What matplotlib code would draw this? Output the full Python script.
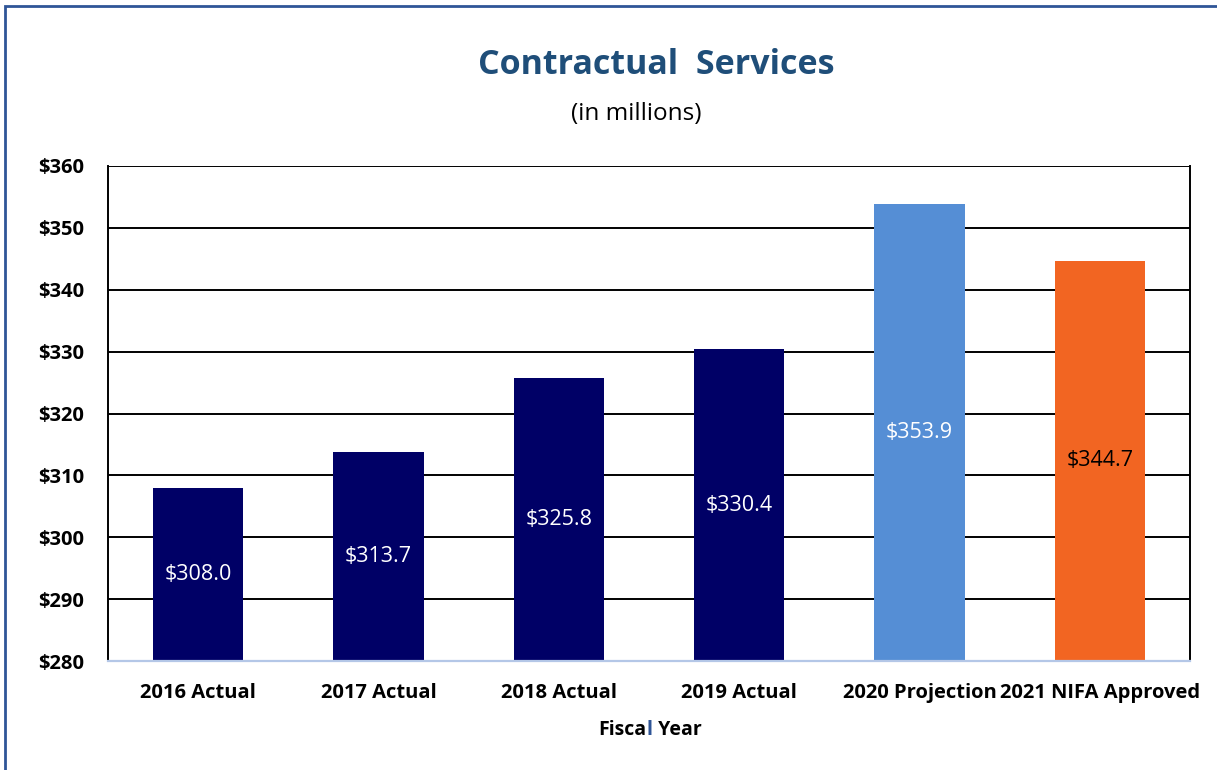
import matplotlib

matplotlib.use("Agg")
import matplotlib.pyplot as plt
from matplotlib.patches import Rectangle

# data
categories = ["2016 Actual", "2017 Actual", "2018 Actual", "2019 Actual",
              "2020 Projection", "2021 NIFA Approved"]
values = [308.0, 313.7, 325.8, 330.4, 353.9, 344.7]
bar_colors = ["#000066", "#000066", "#000066", "#000066", "#558ED5", "#F26522"]
label_colors = ["white", "white", "white", "white", "white", "black"]
y_ticks = [280, 290, 300, 310, 320, 330, 340, 350, 360]

plt.rcParams["font.family"] = ["Open Sans", "DejaVu Sans"]
W, H = 1217, 770

fig = plt.figure(figsize=(W / 100, H / 100), dpi=100)
ax = fig.add_axes([108 / W, 1 - 661 / H, (1190 - 108) / W, (661 - 166) / H])

base = y_ticks[0]
x = list(range(len(categories)))
ax.bar(x, [v - base for v in values], bottom=base, width=0.5,
       color=bar_colors, zorder=3)

for xi, v, c in zip(x, values, label_colors):
    ax.text(xi, (base + v) / 2, f"${v:.1f}", ha="center", va="center",
            color=c, fontsize=15.5, zorder=4)

ax.set_xlim(-0.5, len(categories) - 0.5)
ax.set_ylim(y_ticks[0], y_ticks[-1])
ax.set_yticks(y_ticks)
ax.set_yticklabels([f"${t}" for t in y_ticks], fontweight="bold", fontsize=14.5)
ax.set_xticks(x)
ax.set_xticklabels(categories, fontweight="bold", fontsize=14.5)
ax.tick_params(axis="both", length=0)
ax.tick_params(axis="y", pad=17)
ax.tick_params(axis="x", pad=16)

ax.yaxis.grid(True, color="black", linewidth=1.4, zorder=0)
ax.set_axisbelow(True)
for side in ("left", "right"):
    ax.spines[side].set_color("black")
    ax.spines[side].set_linewidth(1.4)
ax.spines["top"].set_visible(False)
ax.spines["bottom"].set_color("#B4C7E7")
ax.spines["bottom"].set_linewidth(1.6)
ax.spines["bottom"].set_zorder(5)

fig.text(656 / W, 1 - 65 / H, "Contractual  Services", ha="center", va="center",
         fontsize=24.5, fontweight="bold", color="#1F4E79")
fig.text(636 / W, 1 - 114 / H, "(in millions)", ha="center", va="center",
         fontsize=17.5, color="black")

# x axis title in three pieces; the "l" is blue in the original
r = fig.canvas.get_renderer()
xt_style = dict(fontsize=14, fontweight="bold", va="center")


def text_width(s):
    t = fig.text(0, 0, s, **xt_style)
    w = t.get_window_extent(r).width
    t.remove()
    return w


pieces = [("Fisca", "black"), ("l", "#2F5597"), (" Year", "black")]
total = text_width("Fiscal Year")
left = 650 - total / 2
for s, c in pieces:
    fig.text(left / W, 1 - 730 / H, s, ha="left", color=c, **xt_style)
    left += text_width(s + "Y") - text_width("Y")

fig.patches.append(Rectangle((5 / W, -0.01), 1.2, 1 - 6 / H + 0.01,
                             transform=fig.transFigure, fill=False,
                             edgecolor="#2F5597", linewidth=2, figure=fig))

fig.savefig("out.png", dpi=100)
